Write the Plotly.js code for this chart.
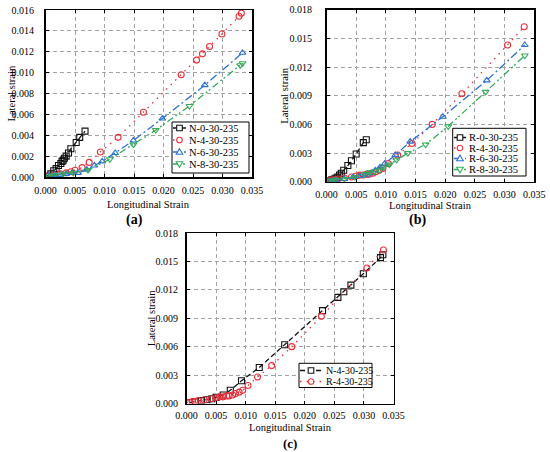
<!DOCTYPE html>
<html>
<head>
<meta charset="utf-8">
<script src="https://cdn.plot.ly/plotly-3.0.1.min.js"></script>
<style>html,body{margin:0;padding:0;background:#fff;}#chart{width:550px;height:452px;}</style>
</head>
<body>
<div id="chart"></div>
<script>
// ---------- data ----------
// Panel (a)
const n0X = [0.0005,0.0009,0.0014,0.0018,0.0022,0.0026,0.0028,0.0030,0.0032,0.0035,0.0039,0.0043,0.0052,0.0058,0.0067];
const n0Y = [0.0001,0.0003,0.0006,0.0008,0.0011,0.0013,0.0015,0.0016,0.0018,0.0020,0.0023,0.0027,0.0033,0.0038,0.0044];
const n4X = [0.0005,0.0015,0.0025,0.0035,0.0043,0.0050,0.0062,0.0074,0.0093,0.0123,0.0166,0.0230,0.0256,0.0266,0.0278,0.0299,0.0328,0.0332];
const n4Y = [0.0001,0.0002,0.0003,0.0004,0.0005,0.00065,0.0009,0.0014,0.0024,0.0038,0.0062,0.0098,0.0112,0.0118,0.0125,0.0137,0.0154,0.0157];
const n6X = [0.0005,0.0015,0.0025,0.0035,0.0045,0.0055,0.0070,0.0083,0.0096,0.0118,0.0149,0.0198,0.0270,0.0334];
const n6Y = [0.0001,0.0002,0.0002,0.0003,0.0004,0.0004,0.0007,0.0011,0.0015,0.0023,0.0035,0.0056,0.0088,0.0119];
const n8X = [0.0005,0.0015,0.0030,0.0047,0.0072,0.0109,0.0149,0.0187,0.0244,0.0330,0.0334];
const n8Y = [0.0001,0.0002,0.0003,0.0004,0.00067,0.0017,0.0031,0.0045,0.0068,0.0107,0.0109];
// Panel (b)
const r0X = [0.0005,0.0009,0.0013,0.0016,0.0019,0.0022,0.0025,0.0029,0.0036,0.0042,0.0050,0.0062,0.0067];
const r0Y = [0.0001,0.0002,0.0003,0.0004,0.0005,0.0007,0.0009,0.0012,0.0017,0.0022,0.0029,0.0041,0.0044];
const r4X = [0.0000,0.0005,0.0010,0.0015,0.0020,0.0030,0.0042,0.0050,0.0056,0.0062,0.0068,0.0072,0.0078,0.0083,0.0089,0.0095,0.0104,0.0120,0.0144,0.0178,0.0228,0.0305,0.0333];
const r4Y = [0.0001,0.0001,0.0002,0.0002,0.0003,0.0004,0.0005,0.0006,0.0007,0.0007,0.0008,0.0008,0.0009,0.00105,0.0012,0.0014,0.0019,0.0028,0.0040,0.0060,0.0092,0.0143,0.0162];
const r6X = [0.0005,0.0015,0.0030,0.0045,0.0055,0.0065,0.0075,0.0082,0.0090,0.0098,0.0116,0.0141,0.0196,0.0270,0.0334];
const r6Y = [0.0001,0.0002,0.0003,0.0005,0.0006,0.0007,0.0009,0.0012,0.0015,0.0019,0.0028,0.0042,0.0068,0.0106,0.0143];
const r8X = [0.0005,0.0015,0.0030,0.0048,0.0064,0.0073,0.0081,0.0090,0.0096,0.0106,0.0118,0.0137,0.0167,0.0205,0.0268,0.0334];
const r8Y = [0.0001,0.0002,0.0003,0.0005,0.0008,0.0010,0.0011,0.0012,0.0015,0.0018,0.0023,0.0030,0.0039,0.0058,0.0094,0.0132];

const namesA = ['N-0-30-235','N-4-30-235','N-6-30-235','N-8-30-235'];
const namesB = ['R-0-30-235','R-4-30-235','R-6-30-235','R-8-30-235'];
const namesC = ['N-4-30-235','R-4-30-235'];
const panelLabels = ['(a)','(b)','(c)'];
const xTitle = 'Longitudinal Strain';
const yTitle = 'Lateral strain';

// ---------- styles ----------
const W = 550, H = 452;
const px = v => v / W;
const py = v => 1 - v / H;
const FONT = '"Liberation Serif", "Times New Roman", Times, serif';
const BLACK = '#111111', RED = '#e8333d', BLUE = '#2a72d4', GREEN = '#35aa5a';
const D_BLACK = '5px,3px', D_RED = '1.5px,5px', D_BLUE = '8px,3px,2px,3px', D_GREEN = '7px,3px,2px,2px,2px,3px';
const styles = [
  {color: BLACK, symbol: 'square-open', dash: D_BLACK, kind: 'square'},
  {color: RED, symbol: 'circle-open', dash: D_RED, kind: 'circle'},
  {color: BLUE, symbol: 'triangle-up-open', dash: D_BLUE, kind: 'up'},
  {color: GREEN, symbol: 'triangle-down-open', dash: D_GREEN, kind: 'down'}
];

function trace(x, y, name, st, xa, ya) {
  return {
    type: 'scatter', mode: 'lines+markers', x: x, y: y, name: name,
    xaxis: xa, yaxis: ya, showlegend: false, hoverinfo: 'skip',
    line: {color: st.color, width: 1.3, dash: st.dash},
    marker: {symbol: st.symbol, size: 6, color: st.color, line: {width: 1.1, color: st.color}}
  };
}

const traces = [
  trace(n0X, n0Y, namesA[0], styles[0], 'x', 'y'),
  trace(n4X, n4Y, namesA[1], styles[1], 'x', 'y'),
  trace(n6X, n6Y, namesA[2], styles[2], 'x', 'y'),
  trace(n8X, n8Y, namesA[3], styles[3], 'x', 'y'),
  trace(r0X, r0Y, namesB[0], styles[0], 'x2', 'y2'),
  trace(r4X, r4Y, namesB[1], styles[1], 'x2', 'y2'),
  trace(r6X, r6Y, namesB[2], styles[2], 'x2', 'y2'),
  trace(r8X, r8Y, namesB[3], styles[3], 'x2', 'y2'),
  trace(n4X, n4Y, namesC[0], styles[0], 'x3', 'y3'),
  trace(r4X, r4Y, namesC[1], styles[1], 'x3', 'y3')
];

function axis(domain, range, dtick, anchor, standoff) {
  return {
    domain: domain, range: range, dtick: dtick, tick0: 0, tickformat: '.3f',
    anchor: anchor, showgrid: true, gridcolor: '#a3a3a3', griddash: '4px,3px', gridwidth: 1,
    showline: true, linecolor: '#000', linewidth: 1.5, mirror: 'ticks',
    ticks: 'inside', ticklen: 3, tickwidth: 1, tickcolor: '#000', zeroline: false,
    tickfont: {family: FONT, size: 10, color: '#000'}, ticklabelstandoff: standoff, fixedrange: true
  };
}

const EPS = 1e-9;
const A = {l: 45.5, r: 252, t: 10, b: 177};
const B = {l: 326.5, r: 534.3, t: 9.6, b: 181.8};
const C = {l: 186.5, r: 393.5, t: 233, b: 403.5};

const layout = {
  width: W, height: H, margin: {l: 0, r: 0, t: 0, b: 0},
  paper_bgcolor: '#fff', plot_bgcolor: '#fff', showlegend: false,
  font: {family: FONT, color: '#000'},
  xaxis: axis([px(A.l), px(A.r)], [0, 0.035 + EPS], 0.005, 'y', 3),
  yaxis: axis([py(A.b), py(A.t)], [0, 0.016 + EPS], 0.002, 'x', 8),
  xaxis2: axis([px(B.l), px(B.r)], [0, 0.035 + EPS], 0.005, 'y2', 3),
  yaxis2: axis([py(B.b), py(B.t)], [0, 0.018 + EPS], 0.003, 'x2', 11),
  xaxis3: axis([px(C.l), px(C.r)], [0, 0.035 + EPS], 0.005, 'y3', 2),
  yaxis3: axis([py(C.b), py(C.t)], [0, 0.018 + EPS], 0.003, 'x3', 5),
  shapes: [], annotations: []
};

function text(x, y, t, size, opts) {
  layout.annotations.push(Object.assign({
    xref: 'paper', yref: 'paper', x: px(x), y: py(y), text: t, showarrow: false,
    xanchor: 'center', yanchor: 'middle', font: {family: FONT, size: size, color: '#000'}
  }, opts || {}));
}

// axis titles
text((A.l + A.r) / 2, 204, xTitle, 10.5);
text((B.l + B.r) / 2, 205, xTitle, 10.5);
text((C.l + C.r) / 2, 427, xTitle, 10.5);
text(11, (A.t + A.b) / 2, yTitle, 10.5, {textangle: -90});
text(285, (B.t + B.b) / 2, yTitle, 10.5, {textangle: -90});
text(151, (C.t + C.b) / 2, yTitle, 10.5, {textangle: -90});
// panel labels
text(134, 220, '<b>' + panelLabels[0] + '</b>', 14);
text(417, 220, '<b>' + panelLabels[1] + '</b>', 14);
text(290, 443, '<b>' + panelLabels[2] + '</b>', 13);

// ---------- custom legends ----------
function markerShape(kind, cx, cy, color) {
  const h = 2.8;
  const base = {xref: 'paper', yref: 'paper', line: {color: color, width: 1.1}, fillcolor: '#fff'};
  if (kind === 'square') return Object.assign({type: 'rect', x0: px(cx - h), x1: px(cx + h), y0: py(cy + h), y1: py(cy - h)}, base);
  if (kind === 'circle') return Object.assign({type: 'circle', x0: px(cx - h), x1: px(cx + h), y0: py(cy + h), y1: py(cy - h)}, base);
  const t = 3.3;
  let pts;
  if (kind === 'up') pts = [[cx, cy - t], [cx + t, cy + t * 0.7], [cx - t, cy + t * 0.7]];
  else pts = [[cx, cy + t], [cx + t, cy - t * 0.7], [cx - t, cy - t * 0.7]];
  const path = 'M' + pts.map(p => px(p[0]) + ',' + py(p[1])).join(' L') + ' Z';
  return Object.assign({type: 'path', path: path}, base);
}

function legend(box, rows, names, stylesUsed, lx0, lx1, tx, size) {
  layout.shapes.push({type: 'rect', xref: 'paper', yref: 'paper', x0: px(box[0]), x1: px(box[2]),
    y0: py(box[3]), y1: py(box[1]), line: {color: '#000', width: 1}, fillcolor: '#fff'});
  names.forEach((nm, i) => {
    const st = stylesUsed[i], yy = rows[i];
    layout.shapes.push({type: 'line', xref: 'paper', yref: 'paper', x0: px(lx0), x1: px(lx1), y0: py(yy), y1: py(yy),
      line: {color: st.color, width: 1.3, dash: st.dash}});
    layout.shapes.push(markerShape(st.kind, (lx0 + lx1) / 2, yy, st.color));
    text(tx, yy, nm, size, {xanchor: 'left'});
  });
}

legend([172, 122, 249, 173], [128, 140, 152, 164], namesA, styles, 173, 186, 187, 10.5);
legend([452.7, 128.3, 526, 176], [137.5, 148, 158.5, 169.5], namesB, styles, 454, 466, 467, 10.5);
legend([299, 363.3, 372, 387.5], [370.5, 381.5], namesC, [styles[0], styles[1]], 300, 322, 324, 10);

Plotly.newPlot('chart', traces, layout, {staticPlot: true, displayModeBar: false});
</script>
</body>
</html>
